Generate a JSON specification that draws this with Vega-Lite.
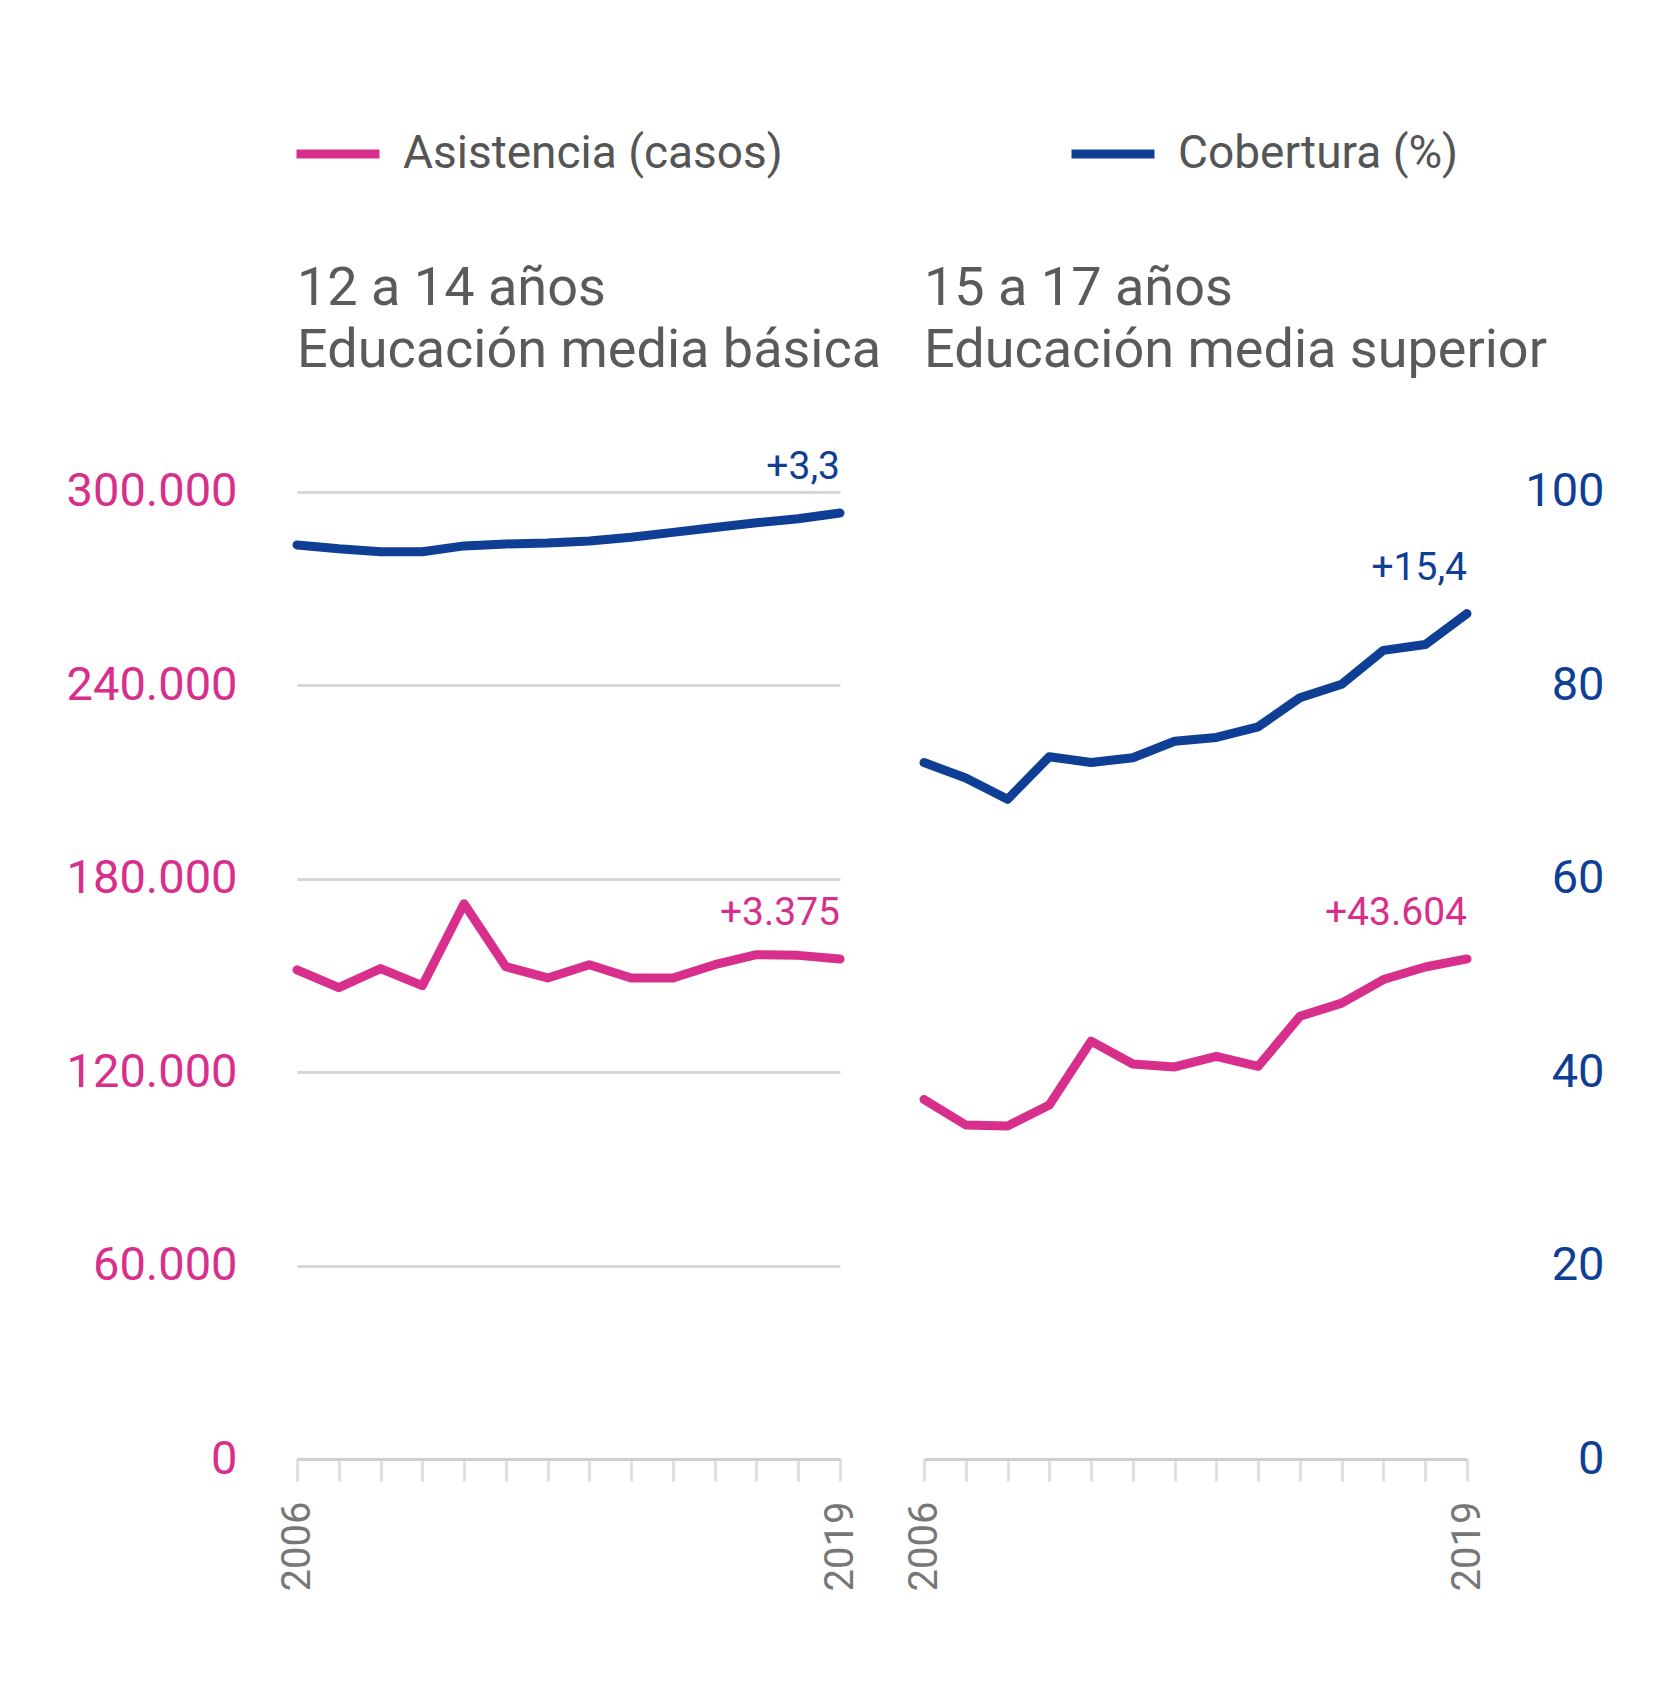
{
  "$schema": "https://vega.github.io/schema/vega-lite/v6.json",
  "background": "white",
  "padding": {"left": 66, "top": 108, "right": 10, "bottom": 10},
  "config": {
    "font": "Roboto",
    "view": {"stroke": null},
    "title": {"anchor": "start", "frame": "group", "fontSize": 54, "fontWeight": "normal", "color": "#5a5a5a", "lineHeight": 62, "offset": 17, "font": "Roboto"},
    "legend": {"orient": "top", "direction": "horizontal", "title": null, "symbolType": "stroke", "symbolSize": 6889, "symbolStrokeWidth": 9, "symbolOffset": -5, "labelFontSize": 46, "labelColor": "#555555", "labelFont": "Roboto", "labelOffset": 19, "columnPadding": 270, "offset": 85, "labelLimit": 0}
  },
  "datasets": {
    "edad1214": [
      {"year": 2006, "asistencia": 151700, "cobertura": 94.5},
      {"year": 2007, "asistencia": 146200, "cobertura": 94.1},
      {"year": 2008, "asistencia": 152100, "cobertura": 93.8},
      {"year": 2009, "asistencia": 146800, "cobertura": 93.8},
      {"year": 2010, "asistencia": 172200, "cobertura": 94.4},
      {"year": 2011, "asistencia": 152700, "cobertura": 94.6},
      {"year": 2012, "asistencia": 149200, "cobertura": 94.7},
      {"year": 2013, "asistencia": 153300, "cobertura": 94.9},
      {"year": 2014, "asistencia": 149200, "cobertura": 95.3},
      {"year": 2015, "asistencia": 149200, "cobertura": 95.8},
      {"year": 2016, "asistencia": 153300, "cobertura": 96.3},
      {"year": 2017, "asistencia": 156400, "cobertura": 96.8},
      {"year": 2018, "asistencia": 156200, "cobertura": 97.2},
      {"year": 2019, "asistencia": 155075, "cobertura": 97.8}
    ],
    "edad1517": [
      {"year": 2006, "asistencia": 111500, "cobertura": 72.0},
      {"year": 2007, "asistencia": 103600, "cobertura": 70.4},
      {"year": 2008, "asistencia": 103300, "cobertura": 68.2},
      {"year": 2009, "asistencia": 109800, "cobertura": 72.6},
      {"year": 2010, "asistencia": 129600, "cobertura": 72.0},
      {"year": 2011, "asistencia": 122500, "cobertura": 72.5},
      {"year": 2012, "asistencia": 121600, "cobertura": 74.2},
      {"year": 2013, "asistencia": 124900, "cobertura": 74.6},
      {"year": 2014, "asistencia": 121800, "cobertura": 75.7},
      {"year": 2015, "asistencia": 137300, "cobertura": 78.7},
      {"year": 2016, "asistencia": 141400, "cobertura": 80.1},
      {"year": 2017, "asistencia": 148700, "cobertura": 83.6},
      {"year": 2018, "asistencia": 152600, "cobertura": 84.2},
      {"year": 2019, "asistencia": 155104, "cobertura": 87.4}
    ],
    "anotaciones": [
      {"panel": "1214", "serie": "asistencia", "year": 2019, "valor": 155075, "label": "+3.375"},
      {"panel": "1214", "serie": "cobertura", "year": 2019, "valor": 97.8, "label": "+3,3"},
      {"panel": "1517", "serie": "asistencia", "year": 2019, "valor": 155104, "label": "+43.604"},
      {"panel": "1517", "serie": "cobertura", "year": 2019, "valor": 87.4, "label": "+15,4"}
    ]
  },
  "bounds": "flush",
  "spacing": 84,
  "hconcat": [
    {
      "width": 543,
      "height": 1064,
      "title": {"text": ["12 a 14 años", "Educación media básica"]},
      "resolve": {"scale": {"y": "independent"}},
      "layer": [
        {
          "data": {"name": "edad1214"},
          "mark": {"type": "line", "strokeWidth": 9, "strokeJoin": "round", "strokeCap": "round"},
          "encoding": {
            "x": {"field": "year", "type": "quantitative", "scale": {"domain": [2006, 2019], "nice": false, "zero": false},
              "axis": {"values": [2006,2007,2008,2009,2010,2011,2012,2013,2014,2015,2016,2017,2018,2019], "title": null, "grid": false,
                "labelExpr": "datum.value == 2006 || datum.value == 2019 ? datum.value : ''", "labelAngle": -90, "labelFontSize": 40, "labelColor": "#777777", "labelPadding": 20,
                "tickSize": 22, "tickWidth": 3, "tickColor": "#e0e0e0", "domainColor": "#cfcfcf", "domainWidth": 3}},
            "y": {"field": "asistencia", "type": "quantitative", "scale": {"domain": [0, 330000], "nice": false},
              "axis": {"values": [0, 60000, 120000, 180000, 240000, 300000], "title": null, "domain": false, "ticks": false,
                "labelExpr": "replace(format(datum.value, ',d'), ',', '.')", "labelFontSize": 47, "labelColor": "#d72f8b", "labelPadding": 60,
                "gridColor": "#d6d6d6", "gridWidth": 3}},
            "color": {"datum": "Asistencia (casos)", "scale": {"domain": ["Asistencia (casos)", "Cobertura (%)"], "range": ["#d72f8b", "#0f3e95"]}}
          }
        },
        {
          "data": {"name": "edad1214"},
          "mark": {"type": "line", "strokeWidth": 9, "strokeJoin": "round", "strokeCap": "round"},
          "encoding": {
            "x": {"field": "year", "type": "quantitative"},
            "y": {"field": "cobertura", "type": "quantitative", "scale": {"domain": [0, 110], "nice": false}, "axis": null},
            "color": {"datum": "Cobertura (%)"}
          }
        },
        {
          "data": {"name": "anotaciones"},
          "transform": [{"filter": "datum.panel == '1214' && datum.serie == 'asistencia'"}],
          "mark": {"type": "text", "align": "right", "baseline": "alphabetic", "dy": -34, "fontSize": 39, "color": "#d72f8b"},
          "encoding": {
            "x": {"field": "year", "type": "quantitative"},
            "y": {"field": "valor", "type": "quantitative", "scale": {"domain": [0, 330000], "nice": false}, "axis": null},
            "text": {"field": "label"}
          }
        },
        {
          "data": {"name": "anotaciones"},
          "transform": [{"filter": "datum.panel == '1214' && datum.serie == 'cobertura'"}],
          "mark": {"type": "text", "align": "right", "baseline": "alphabetic", "dy": -34, "fontSize": 39, "color": "#0f3e95"},
          "encoding": {
            "x": {"field": "year", "type": "quantitative"},
            "y": {"field": "valor", "type": "quantitative", "scale": {"domain": [0, 110], "nice": false}, "axis": null},
            "text": {"field": "label"}
          }
        }
      ]
    },
    {
      "width": 543,
      "height": 1064,
      "title": {"text": ["15 a 17 años", "Educación media superior"]},
      "resolve": {"scale": {"y": "independent"}},
      "layer": [
        {
          "data": {"name": "edad1517"},
          "mark": {"type": "line", "strokeWidth": 9, "strokeJoin": "round", "strokeCap": "round"},
          "encoding": {
            "x": {"field": "year", "type": "quantitative", "scale": {"domain": [2006, 2019], "nice": false, "zero": false},
              "axis": {"values": [2006,2007,2008,2009,2010,2011,2012,2013,2014,2015,2016,2017,2018,2019], "title": null, "grid": false,
                "labelExpr": "datum.value == 2006 || datum.value == 2019 ? datum.value : ''", "labelAngle": -90, "labelFontSize": 40, "labelColor": "#777777", "labelPadding": 20,
                "tickSize": 22, "tickWidth": 3, "tickColor": "#e0e0e0", "domainColor": "#cfcfcf", "domainWidth": 3}},
            "y": {"field": "asistencia", "type": "quantitative", "scale": {"domain": [0, 330000], "nice": false}, "axis": null},
            "color": {"datum": "Asistencia (casos)", "scale": {"domain": ["Asistencia (casos)", "Cobertura (%)"], "range": ["#d72f8b", "#0f3e95"]}}
          }
        },
        {
          "data": {"name": "edad1517"},
          "mark": {"type": "line", "strokeWidth": 9, "strokeJoin": "round", "strokeCap": "round"},
          "encoding": {
            "x": {"field": "year", "type": "quantitative"},
            "y": {"field": "cobertura", "type": "quantitative", "scale": {"domain": [0, 110], "nice": false},
              "axis": {"orient": "right", "values": [0, 20, 40, 60, 80, 100], "title": null, "domain": false, "ticks": false,
                "labelFontSize": 47, "labelColor": "#0f3e95", "labelPadding": 137, "labelAlign": "right",
                "gridColor": "#d6d6d6", "gridWidth": 3}},
            "color": {"datum": "Cobertura (%)"}
          }
        },
        {
          "data": {"name": "anotaciones"},
          "transform": [{"filter": "datum.panel == '1517' && datum.serie == 'asistencia'"}],
          "mark": {"type": "text", "align": "right", "baseline": "alphabetic", "dy": -34, "fontSize": 39, "color": "#d72f8b"},
          "encoding": {
            "x": {"field": "year", "type": "quantitative"},
            "y": {"field": "valor", "type": "quantitative", "scale": {"domain": [0, 330000], "nice": false}, "axis": null},
            "text": {"field": "label"}
          }
        },
        {
          "data": {"name": "anotaciones"},
          "transform": [{"filter": "datum.panel == '1517' && datum.serie == 'cobertura'"}],
          "mark": {"type": "text", "align": "right", "baseline": "alphabetic", "dy": -34, "fontSize": 39, "color": "#0f3e95"},
          "encoding": {
            "x": {"field": "year", "type": "quantitative"},
            "y": {"field": "valor", "type": "quantitative", "scale": {"domain": [0, 110], "nice": false}, "axis": null},
            "text": {"field": "label"}
          }
        }
      ]
    }
  ]
}
